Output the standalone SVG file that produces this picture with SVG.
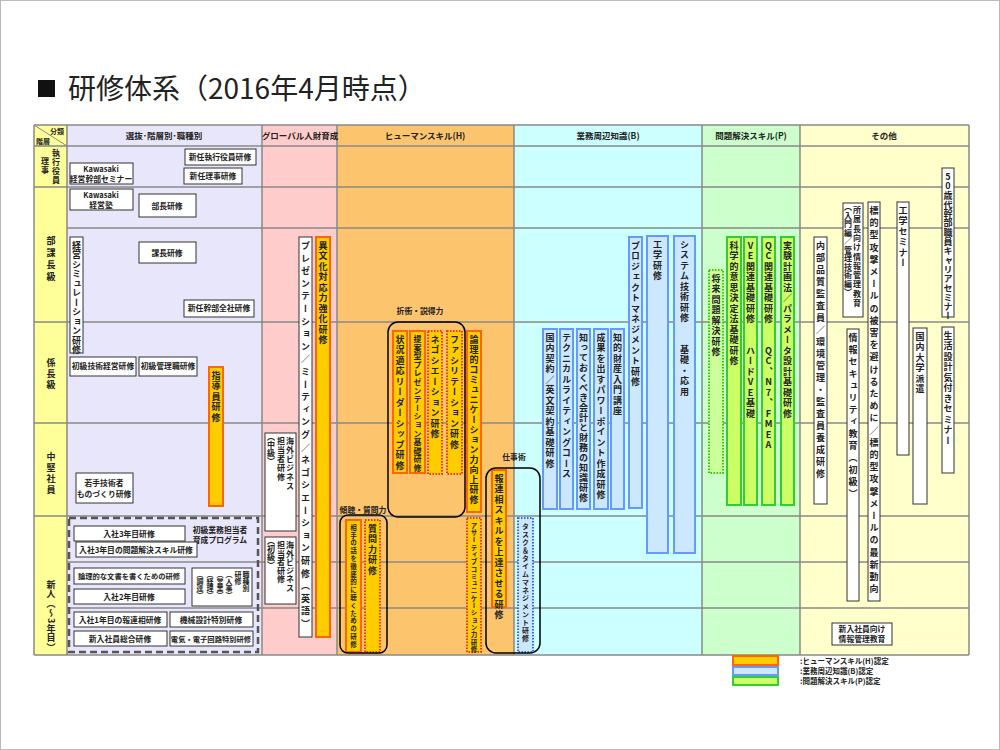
<svg xmlns="http://www.w3.org/2000/svg" width="1000" height="750" viewBox="0 0 1000 750">
<style>
text{font-family:"Noto Sans CJK JP","Noto Sans",sans-serif;font-weight:bold;fill:#222}
.h{font-size:8.5px;text-anchor:middle}
.t{font-size:7.8px;text-anchor:middle}
.v{writing-mode:vertical-rl;font-size:9px;letter-spacing:1.5px}
.up{text-orientation:upright}
.vs{writing-mode:vertical-rl;font-size:6.5px}
.bo{fill:#ffcc00;stroke:#ff6600;stroke-width:2}
.bod{fill:#ffcc00;stroke:#ff3300;stroke-width:2;stroke-dasharray:1.5 1.5}
.bb{fill:#cce8ff;stroke:#6699ff;stroke-width:2}
.bbd{fill:#cce8ff;stroke:#3366ff;stroke-width:2;stroke-dasharray:1.5 1.5}
.bg{fill:#ccff66;stroke:#33cc33;stroke-width:2}
.bgd{fill:#ccff99;stroke:#33cc00;stroke-width:2;stroke-dasharray:1.5 1.5}
.bw{fill:#fff;stroke:#333;stroke-width:1}
.grid{stroke:#888;stroke-width:1.5}
.grp{fill:none;stroke:#000;stroke-width:1.5}
</style>
<rect x="0.5" y="0.5" width="999" height="749" fill="#fff" stroke="#bbb"/>
<rect x="38" y="80" width="17" height="17" fill="#111"/>
<text x="68" y="99" style="font-size:28px;font-weight:normal">研修体系（2016年4月時点）</text>
<g id="table">
<rect x="34" y="125" width="33" height="530" fill="#ffff99"/>
<rect x="67" y="125" width="195" height="530" fill="#e8e6fa"/>
<rect x="262" y="125" width="75" height="530" fill="#ffcccc"/>
<rect x="337" y="125" width="177" height="530" fill="#fdc46e"/>
<rect x="514" y="125" width="188" height="530" fill="#ccffff"/>
<rect x="702" y="125" width="98" height="530" fill="#ccffcc"/>
<rect x="800" y="125" width="169" height="530" fill="#ffffcc"/>
<g class="grid">
<line x1="34" y1="125" x2="969" y2="125"/>
<line x1="34" y1="146" x2="969" y2="146"/>
<line x1="34" y1="187" x2="969" y2="187"/>
<line x1="67" y1="228" x2="969" y2="228"/>
<line x1="34" y1="322" x2="969" y2="322"/>
<line x1="34" y1="423" x2="969" y2="423"/>
<line x1="34" y1="516" x2="969" y2="516"/>
<line x1="67" y1="562" x2="969" y2="562"/>
<line x1="67" y1="608" x2="969" y2="608"/>
<line x1="34" y1="655" x2="969" y2="655"/>
<line x1="34" y1="125" x2="34" y2="655"/>
<line x1="67" y1="125" x2="67" y2="655"/>
<line x1="262" y1="125" x2="262" y2="655"/>
<line x1="337" y1="125" x2="337" y2="655"/>
<line x1="514" y1="125" x2="514" y2="655"/>
<line x1="702" y1="125" x2="702" y2="655"/>
<line x1="800" y1="125" x2="800" y2="655"/>
<line x1="969" y1="125" x2="969" y2="655"/>
<line x1="34" y1="125" x2="67" y2="146" stroke-width="1"/>
</g>
<text x="64" y="134" style="font-size:7px;text-anchor:end">分類</text>
<text x="36" y="144" style="font-size:7px">階層</text>
<text class="h" x="164" y="139">選抜･階層別･職種別</text>
<text class="h" x="300" y="139">グローバル人財育成</text>
<text class="h" x="425" y="139">ヒューマンスキル(H)</text>
<text class="h" x="608" y="139">業務周辺知識(B)</text>
<text class="h" x="751" y="139">問題解決スキル(P)</text>
<text class="h" x="884" y="139">その他</text>
<text class="v" x="56" y="149" style="font-size:8px;letter-spacing:1px">執行役員</text>
<text class="v" x="45" y="157" style="font-size:8px;letter-spacing:1px">理事</text>
<text class="v" x="51" y="236" style="letter-spacing:3px">部課長級</text>
<text class="v" x="51" y="358" style="letter-spacing:2px">係長級</text>
<text class="v" x="51" y="452" style="letter-spacing:2px">中堅社員</text>
<text class="v" x="51" y="580" style="letter-spacing:0.5px">新人（～3年目）</text>
</g>
<g id="nodes-select">
<g id="n1"><rect class="bw" x="185" y="149" width="71" height="16"/><text class="t" x="220" y="160">新任執行役員研修</text></g>
<g id="n2"><rect class="bw" x="184" y="168" width="58" height="16"/><text class="t" x="213" y="179">新任理事研修</text></g>
<g id="n3"><rect class="bw" x="70" y="163" width="63" height="21"/><text class="t" x="101" y="172" style="font-size:7.5px">Kawasaki</text><text class="t" x="101" y="182">経営幹部セミナー</text></g>
<g id="n4"><rect class="bw" x="70" y="189" width="63" height="21"/><text class="t" x="101" y="198" style="font-size:7.5px">Kawasaki</text><text class="t" x="101" y="208">経営塾</text></g>
<g id="n5"><rect class="bw" x="139" y="194" width="57" height="23"/><text class="t" x="167" y="209">部長研修</text></g>
<g id="n6"><rect class="bw" x="139" y="242" width="57" height="21"/><text class="t" x="167" y="256">課長研修</text></g>
<g id="n7"><rect class="bw" x="184" y="300" width="70" height="17"/><text class="t" x="219" y="311">新任幹部全社研修</text></g>
<g id="n8"><rect class="bw" x="70" y="237" width="13" height="116"/><text class="v" x="76.5" y="241" style="letter-spacing:0.5px">経営シミュレーション研修</text></g>
<g id="n9"><rect class="bw" x="70" y="357" width="66" height="19"/><text class="t" x="103" y="369">初級技術経営研修</text></g>
<g id="n10"><rect class="bw" x="139" y="357" width="58" height="19"/><text class="t" x="168" y="369">初級管理職研修</text></g>
<g id="n11"><rect class="bo" x="209" y="367" width="14" height="139"/><text class="v" x="216" y="371">指導員研修</text></g>
<g id="n12"><rect class="bw" x="76" y="473" width="57" height="30"/><text class="t" x="104" y="486">若手技術者</text><text class="t" x="104" y="497">ものづくり研修</text></g>
<rect x="69" y="518" width="189" height="134" fill="none" stroke="#555" stroke-width="2.5" stroke-dasharray="7 4"/>
<text class="t" x="220" y="533">初級業務担当者</text>
<text class="t" x="220" y="543">育成プログラム</text>
<g id="n13"><rect class="bw" x="74" y="526" width="111" height="15"/><text class="t" x="129" y="537">入社3年目研修</text></g>
<g id="n14"><rect class="bw" x="76" y="542" width="121" height="15"/><text class="t" x="136" y="553">入社3年目の問題解決スキル研修</text></g>
<g id="n15"><rect class="bw" x="74" y="568" width="111" height="16"/><text class="t" x="129" y="579" style="font-size:7.3px">論理的な文書を書くための研修</text></g>
<g id="n16"><rect class="bw" x="74" y="589" width="111" height="15"/><text class="t" x="129" y="600">入社2年目研修</text></g>
<g id="n17"><rect class="bw" x="192" y="568" width="60" height="38"/>
<text class="v" x="246" y="571" style="font-size:7px;letter-spacing:0">職種別</text>
<text class="v" x="238" y="571" style="font-size:7px;letter-spacing:0">研修</text>
<text class="v" x="229" y="571" style="font-size:7px;letter-spacing:0">（人事）</text>
<text class="v" x="220" y="571" style="font-size:7px;letter-spacing:0">（営業）</text>
<text class="v" x="210" y="571" style="font-size:7px;letter-spacing:0">（経理）</text>
<text class="v" x="200" y="571" style="font-size:7px;letter-spacing:0">（調達）</text></g>
<g id="n18"><rect class="bw" x="74" y="612" width="93" height="15"/><text class="t" x="120" y="623">入社1年目の報連相研修</text></g>
<g id="n19"><rect class="bw" x="170" y="612" width="83" height="15"/><text class="t" x="211" y="623">機械設計特別研修</text></g>
<g id="n20"><rect class="bw" x="74" y="631" width="93" height="15"/><text class="t" x="120" y="642">新入社員総合研修</text></g>
<g id="n21"><rect class="bw" x="170" y="631" width="83" height="15"/><text class="t" x="211" y="642" style="font-size:7.3px">電気・電子回路特別研修</text></g>
</g>
<g id="nodes-global">
<g id="g1"><rect class="bw" x="299" y="237" width="13" height="400"/><text class="v" x="305.5" y="241" style="letter-spacing:3.6px">プレゼンテーション／ミーティング／ネゴシエーション研修（英語）</text></g>
<g id="g2"><rect class="bo" x="316" y="237" width="14" height="400"/><text class="v" x="323" y="241">異文化対応力強化研修</text></g>
<g id="g3"><rect class="bw" x="265" y="433" width="31" height="98"/><text class="v" x="290" y="437" style="font-size:8px;letter-spacing:1px">海外ビジネス</text><text class="v" x="281" y="437" style="font-size:8px;letter-spacing:1px">担当者研修</text><text class="v" x="271" y="433" style="font-size:8px;letter-spacing:0">（中級）</text></g>
<g id="g4"><rect class="bw" x="265" y="537" width="31" height="67"/><text class="v" x="290" y="541" style="font-size:8px;letter-spacing:0.5px">海外ビジネス</text><text class="v" x="281" y="541" style="font-size:8px;letter-spacing:0.5px">担当者研修</text><text class="v" x="271" y="537" style="font-size:8px;letter-spacing:0">（初級）</text></g>
</g>
<g id="nodes-human">
<text class="t" x="420" y="314">折衝・説得力</text>
<text class="t" x="363" y="513">傾聴・質問力</text>
<text class="t" x="514" y="460">仕事術</text>
<g id="h1"><rect class="bo" x="393" y="331" width="14" height="142"/><text class="v" x="400" y="335">状況適応リーダーシップ研修</text></g>
<g id="h2"><rect class="bo" x="410" y="331" width="15" height="142"/><text class="v" x="417.5" y="335" style="font-size:8px;letter-spacing:0.6px">提案型プレゼンテーション基礎研修</text></g>
<g id="h3"><rect class="bod" x="428" y="331" width="14" height="143"/><text class="v" x="435" y="335">ネゴシエーション研修</text></g>
<g id="h4"><rect class="bod" x="447" y="331" width="15" height="143"/><text class="v" x="454.5" y="335">ファシリテーション研修</text></g>
<g id="h5"><rect class="bo" x="467" y="331" width="14" height="181"/><text class="v" x="474" y="335" style="letter-spacing:1px">論理的コミュニケーション力向上研修</text></g>
<g id="h6"><rect class="bod" x="467" y="518" width="14" height="134"/><text class="vs" x="474" y="522" style="letter-spacing:0.8px">アサーティブコミュニケーション力研修</text></g>
<g id="h7"><rect class="bo" x="492" y="470" width="14" height="137"/><text class="v" x="499" y="474">報連相スキルを上達させる研修</text></g>
<g id="h8"><rect class="bbd" x="518" y="518" width="15" height="134"/><text class="vs" x="525.5" y="523" style="font-size:7px;letter-spacing:1px">タスク＆タイムマネジメント研修</text></g>
<g id="h9"><rect class="bo" x="346" y="520" width="15" height="132"/><text class="vs" x="353.5" y="524" style="letter-spacing:1.3px">相手の話を徹底的に聴くための研修</text></g>
<g id="h10"><rect class="bod" x="365" y="520" width="15" height="132"/><text class="v" x="372.5" y="524">質問力研修</text></g>
</g>
<g id="nodes-business">
<g id="b1"><rect class="bb" x="543" y="329" width="14" height="180"/><text class="v" x="550" y="333">国内契約／英文契約基礎研修</text></g>
<g id="b2"><rect class="bb" x="560" y="329" width="13" height="180"/><text class="v" x="566.5" y="333">テクニカルライティングコース</text></g>
<g id="b3"><rect class="bb" x="577" y="329" width="13" height="180"/><text class="v" x="583.5" y="333" style="letter-spacing:1px">知っておくべき会計と財務の知識研修</text></g>
<g id="b4"><rect class="bb" x="594" y="329" width="14" height="180"/><text class="v" x="601" y="333">成果を出すパワーポイント作成研修</text></g>
<g id="b5"><rect class="bb" x="611" y="329" width="13" height="180"/><text class="v" x="617.5" y="333">知的財産入門講座</text></g>
<g id="b6"><rect class="bb" x="629" y="237" width="13" height="271"/><text class="v" x="635.5" y="241">プロジェクトマネジメント研修</text></g>
<g id="b7"><rect class="bb" x="647" y="236" width="21" height="317"/><text class="v" x="657.5" y="240">工学研修</text></g>
<g id="b8"><rect class="bb" x="674" y="236" width="21" height="317"/><text class="v" x="684.5" y="240">システム技術研修　　基礎・応用</text></g>
</g>
<g id="nodes-problem">
<g id="p1"><rect class="bgd" x="709" y="270" width="14" height="203"/><text class="v" x="716" y="274">将来問題解決研修</text></g>
<g id="p2"><rect class="bg" x="727" y="237" width="14" height="268"/><text class="v" x="734" y="241">科学的意思決定法基礎研修</text></g>
<g id="p3"><rect class="bg" x="744" y="237" width="13" height="268"/><text class="v up" x="750.5" y="241">VE関連基礎研修　　ハードVE基礎</text></g>
<g id="p4"><rect class="bg" x="762" y="237" width="13" height="268"/><text class="v up" x="768.5" y="241">QC関連基礎研修　　QC、N7、FMEA</text></g>
<g id="p5"><rect class="bg" x="781" y="237" width="13" height="268"/><text class="v" x="787.5" y="241">実験計画法／パラメータ設計基礎研修</text></g>
</g>
<g id="nodes-other">
<g id="o1"><rect class="bw" x="814" y="237" width="13" height="267"/><text class="v" x="820.5" y="241" style="letter-spacing:3px">内部品質監査員／環境管理・監査員養成研修</text></g>
<g id="o2"><rect class="bw" x="843" y="203" width="20" height="114"/><text class="v" x="857" y="206" style="font-size:8px;letter-spacing:1.3px">所属長向け情報管理教育</text><text class="v" x="848" y="203" style="font-size:8px;letter-spacing:0.5px">（入門編／管理技術編）</text></g>
<g id="o3"><rect class="bw" x="868" y="202" width="12" height="399"/><text class="v" x="874" y="206" style="letter-spacing:3.2px">標的型攻撃メールの被害を避けるために／標的型攻撃メールの最新動向</text></g>
<g id="o4"><rect class="bw" x="847" y="329" width="12" height="272"/><text class="v" x="853" y="333" style="letter-spacing:3px">情報セキュリティ教育（初級）</text></g>
<g id="o5"><rect class="bw" x="897" y="202" width="12" height="253"/><text class="v" x="903" y="206">工学セミナー</text></g>
<g id="o6"><rect class="bw" x="913" y="328" width="14" height="176"/><text class="v" x="920" y="332">国内大学派遣</text></g>
<g id="o7"><rect class="bw" x="942" y="168" width="12" height="149"/><text class="v up" x="948" y="172" style="letter-spacing:0.3px">50歳代幹部職員キャリアセミナー</text></g>
<g id="o8"><rect class="bw" x="942" y="327" width="12" height="146"/><text class="v" x="948" y="331">生活設計気付きセミナー</text></g>
<g id="o9"><rect class="bw" x="832" y="623" width="60" height="22"/><text class="t" x="862" y="632">新入社員向け</text><text class="t" x="862" y="642">情報管理教育</text></g>
</g>
<g id="connectors">
<rect class="grp" x="388" y="322" width="77" height="195" rx="10"/>
<rect class="grp" x="486" y="468" width="54" height="185" rx="10"/>
<rect class="grp" x="340" y="515" width="47" height="138" rx="8"/>
</g>
<g id="legend">
<rect class="bo" x="733" y="656" width="45" height="9"/>
<rect class="bb" x="733" y="667" width="45" height="8"/>
<rect class="bg" x="733" y="677" width="45" height="8"/>
<text x="800" y="664" style="font-size:7.5px">:ヒューマンスキル(H)認定</text>
<text x="800" y="674" style="font-size:7.5px">:業務周辺知識(B)認定</text>
<text x="800" y="684" style="font-size:7.5px">:問題解決スキル(P)認定</text>
</g>
</svg>
